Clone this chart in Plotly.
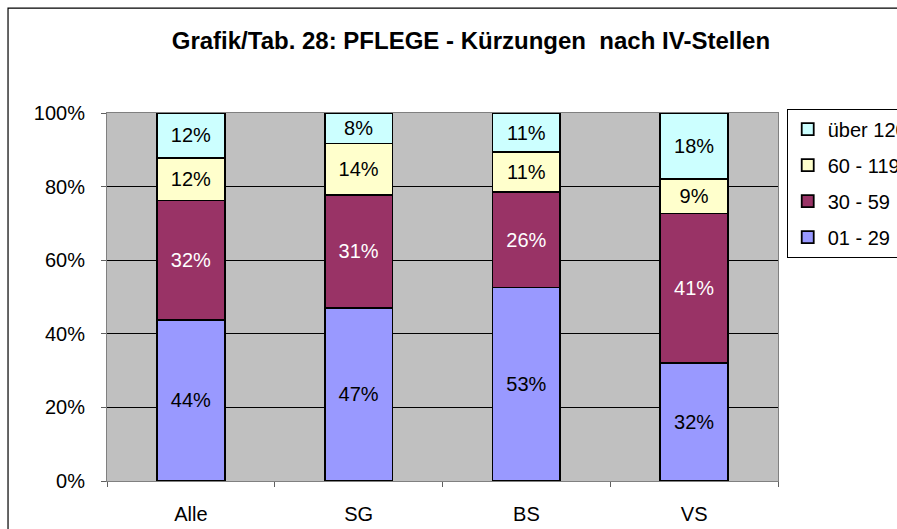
import plotly.graph_objects as go

categories = ["Alle", "SG", "BS", "VS"]
series_names = ["01 - 29", "30 - 59", "60 - 119", "über 120"]
v_01_29 = [43.8, 47.1, 52.6, 32.0]
v_30_59 = [32.4, 30.6, 25.9, 40.7]
v_60_119 = [11.6, 14.0, 10.9, 9.3]
v_120 = [12.2, 8.3, 10.6, 18.0]

colors = ["#9999FF", "#993366", "#FFFFCC", "#CCFFFF"]
text_colors = ["black", "white", "black", "black"]
FONT = "Liberation Sans, Arial, sans-serif"

fig = go.Figure()
all_vals = [v_01_29, v_30_59, v_60_119, v_120]
for i, (name, vals, col, tcol) in enumerate(zip(series_names, all_vals, colors, text_colors)):
    fig.add_trace(
        go.Bar(
            x=categories,
            y=vals,
            name=name,
            legendgroup=name,
            legendrank=len(series_names) - i,
            marker={"color": col, "line": {"color": "black", "width": 1.8}},
            text=[f"{v:.0f}%" for v in vals],
            textposition="inside",
            insidetextanchor="middle",
            textangle=0,
            textfont={"family": FONT, "size": 20, "color": tcol},
            hoverinfo="skip",
        )
    )

# outer chart frame
fig.add_shape(
    type="rect", xref="paper", yref="paper",
    x0=-0.1475, y0=-0.3, x1=1.5, y1=1.285,
    line={"color": "black", "width": 1.2}, fillcolor="rgba(0,0,0,0)", layer="below",
)

fig.update_layout(
    width=897,
    height=529,
    barmode="stack",
    bargap=0.595,
    paper_bgcolor="white",
    plot_bgcolor="#C0C0C0",
    font={"family": FONT, "size": 20, "color": "black"},
    title={
        "text": "<b>Grafik/Tab. 28: PFLEGE - Kürzungen  nach IV-Stellen</b>",
        "x": 0.525, "xanchor": "center", "y": 0.924, "yanchor": "middle",
        "font": {"family": FONT, "size": 24, "color": "black"},
    },
    margin={"l": 107, "r": 119, "t": 113, "b": 48, "autoexpand": False},
    showlegend=True,
    legend={
        "x": 1.013, "xanchor": "left", "y": 1.012, "yanchor": "top",
        "traceorder": "grouped",
        "tracegroupgap": 7,
        "bordercolor": "black", "borderwidth": 1, "bgcolor": "white",
        "font": {"family": FONT, "size": 20, "color": "black"},
    },
)
fig.update_xaxes(
    showgrid=False, ticks="outside", tickson="boundaries", ticklen=5,
    tickcolor="#606060", showline=True, linecolor="#808080", linewidth=1, mirror=True,
    tickfont={"size": 20}, ticklabelstandoff=15,
)
fig.update_yaxes(
    range=[0, 100], dtick=20, ticksuffix="%", showgrid=True, gridcolor="black",
    gridwidth=1, ticks="outside", ticklen=5, tickcolor="#606060",
    showline=True, linecolor="#808080", linewidth=1, mirror=True,
    tickfont={"size": 20}, zeroline=False, ticklabelstandoff=12,
)

fig.write_html(
    "out.html",
    config={"displayModeBar": False},
    post_script="document.body.style.margin='0';",
)
